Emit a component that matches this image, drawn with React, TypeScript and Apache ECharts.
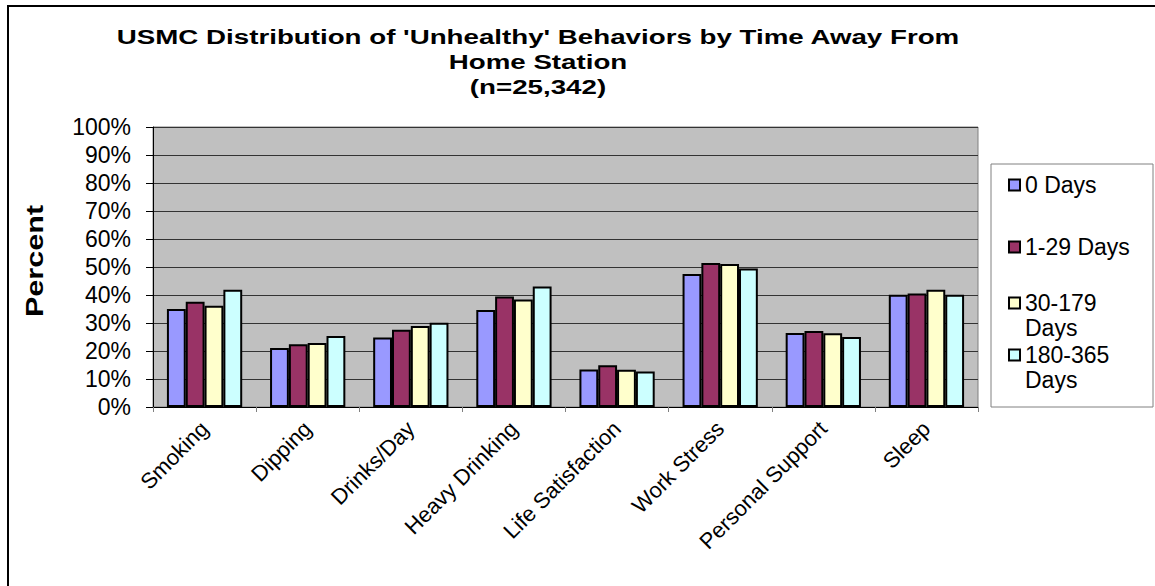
import React, { useEffect, useRef } from "react";
import * as echarts from "echarts";

const categories = [
  "Smoking",
  "Dipping",
  "Drinks/Day",
  "Heavy Drinking",
  "Life Satisfaction",
  "Work Stress",
  "Personal Support",
  "Sleep",
];
const seriesNames = ["0 Days", "1-29 Days", "30-179 Days", "180-365 Days"];
const days0 = [35.0, 21.1, 24.8, 34.6, 13.4, 47.5, 26.4, 40.1];
const days1to29 = [37.6, 22.4, 27.6, 39.5, 14.9, 51.4, 27.1, 40.5];
const days30to179 = [36.2, 22.9, 28.9, 38.4, 13.3, 51.1, 26.3, 41.9];
const days180to365 = [41.9, 25.4, 30.1, 43.0, 12.7, 49.5, 25.0, 40.1];
const seriesValues = [days0, days1to29, days30to179, days180to365];
const colors = ["#9999FF", "#993366", "#FFFFCC", "#CCFFFF"];
const legendLabels = ["0 Days", "1-29 Days", " \n30-179\nDays", " \n180-365\nDays"];
const titleText =
  "USMC Distribution of 'Unhealthy' Behaviors by Time Away From\nHome Station\n(n=25,342)";

const FONT = '"Liberation Sans", Arial, Helvetica, sans-serif';

export default function App() {
  const ref = useRef<HTMLDivElement>(null);
  useEffect(() => {
    if (!ref.current) return;
    const chart = echarts.init(ref.current, null, { renderer: "svg" });
    const legendTops = [172.5, 234.5, 265.5, 317.5];
    const option: any = {
      animation: false,
      backgroundColor: "#ffffff",
      textStyle: { fontFamily: FONT },
      grid: {
        left: 153,
        top: 127,
        width: 825,
        height: 280,
        show: true,
        backgroundColor: "#C0C0C0",
        borderColor: "#808080",
        borderWidth: 1,
      },
      graphic: [
        {
          type: "polyline",
          shape: { points: [[8, 700], [8, 6], [1300, 6]] },
          style: { fill: "none", stroke: "#000", lineWidth: 2 },
          silent: true,
        },
        {
          type: "rect",
          shape: { x: 991, y: 164, width: 162, height: 243 },
          style: { fill: "#fff", stroke: "#808080", lineWidth: 1 },
          silent: true,
        },
        {
          type: "text",
          x: 538,
          y: 62,
          scaleX: 1.32,
          style: {
            text: titleText,
            font: `bold 21px ${FONT}`,
            fill: "#000",
            align: "center",
            verticalAlign: "middle",
            lineHeight: 25,
          },
        },
        {
          type: "text",
          x: 35,
          y: 261,
          rotation: Math.PI / 2,
          scaleX: 1.33,
          style: {
            text: "Percent",
            font: `bold 23px ${FONT}`,
            fill: "#000",
            align: "center",
            verticalAlign: "middle",
          },
        },
      ],
      legend: seriesNames.map((name, i) => ({
        data: [name],
        orient: "vertical",
        left: 1008,
        top: legendTops[i],
        padding: 0,
        itemWidth: 11,
        itemHeight: 11,
        icon: "rect",
        selectedMode: false,
        formatter: () => legendLabels[i],
        textStyle: {
          fontFamily: FONT,
          fontSize: 23,
          color: "#000",
          lineHeight: 25,
        },
      })),
      xAxis: {
        type: "category",
        data: categories,
        boundaryGap: true,
        axisLine: { show: true, lineStyle: { color: "#000", width: 1 } },
        axisTick: { show: true, length: 5, lineStyle: { color: "#808080" } },
        axisLabel: {
          rotate: 45,
          interval: 0,
          margin: 18,
          fontSize: 22,
          color: "#000",
          fontFamily: FONT,
        },
        splitLine: { show: false },
      },
      yAxis: {
        type: "value",
        min: 0,
        max: 100,
        interval: 10,
        axisLine: { show: true, lineStyle: { color: "#000", width: 1 } },
        axisTick: { show: true, length: 7, lineStyle: { color: "#000" } },
        axisLabel: {
          formatter: "{value}%",
          margin: 22,
          fontSize: 23,
          color: "#000",
          fontFamily: FONT,
        },
        splitLine: { show: true, lineStyle: { color: "#333", width: 1 } },
      },
      series: seriesNames.map((name, i) => ({
        name,
        type: "bar",
        data: seriesValues[i],
        barGap: "0%",
        barCategoryGap: "27%",
        itemStyle: { color: colors[i], borderColor: "#000", borderWidth: 2 },
      })),
    };
    chart.setOption(option);
    return () => chart.dispose();
  }, []);
  return (
    <div
      ref={ref}
      style={{ position: "fixed", left: 0, top: 0, width: 1155, height: 586, background: "#fff" }}
    />
  );
}
